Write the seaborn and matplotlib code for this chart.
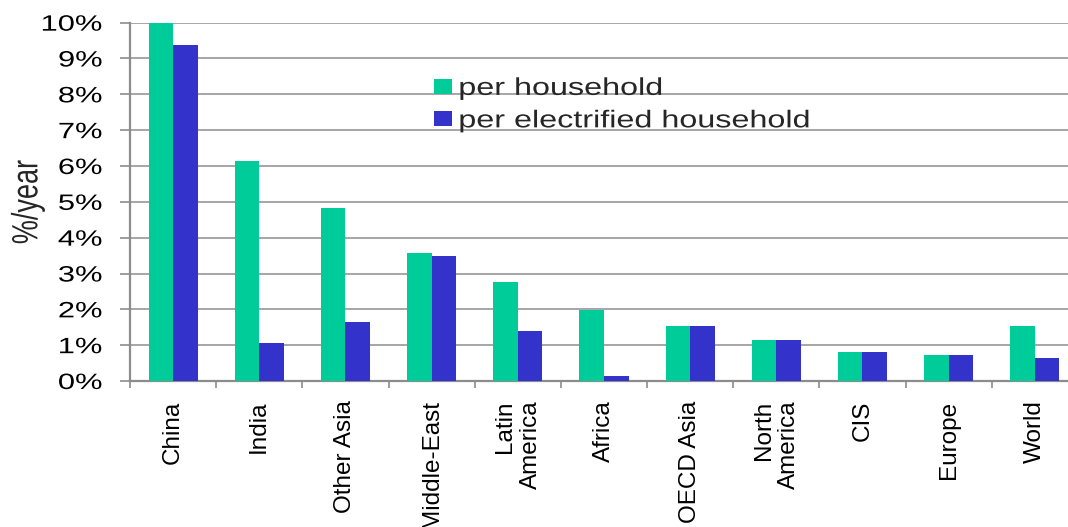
import matplotlib
matplotlib.use("Agg")
import matplotlib.pyplot as plt
import seaborn as sns
import pandas as pd
from matplotlib.ticker import FuncFormatter, FixedLocator
from matplotlib.patheffects import AbstractPathEffect
from matplotlib.transforms import Affine2D

regions = ["China", "India", "Other Asia", "Middle-East", "Latin\nAmerica",
           "Africa", "OECD Asia", "North\nAmerica", "CIS", "Europe", "World"]
per_household = [10.0, 6.15, 4.82, 3.57, 2.75, 1.97, 1.54, 1.15, 0.82, 0.72, 1.54]
per_electrified = [9.38, 1.07, 1.64, 3.50, 1.39, 0.14, 1.54, 1.15, 0.82, 0.72, 0.64]
series_names = ["per household", "per electrified household"]
y_ticks = list(range(0, 11))

df = pd.DataFrame({
    "region": regions * 2,
    "series": [series_names[0]] * len(regions) + [series_names[1]] * len(regions),
    "value": per_household + per_electrified,
})


class StretchX(AbstractPathEffect):
    """Widen drawn text horizontally about its left, right or centre edge."""

    def __init__(self, sx, anchor="left"):
        super().__init__()
        self.sx = sx
        self.anchor = anchor

    def draw_path(self, renderer, gc, tpath, affine, rgbFace=None):
        ext = tpath.get_extents(affine)
        if self.anchor == "right":
            x0 = ext.x1
        elif self.anchor == "center":
            x0 = 0.5 * (ext.x0 + ext.x1)
        else:
            x0 = ext.x0
        t = affine + Affine2D().translate(-x0, 0).scale(self.sx, 1).translate(x0, 0)
        renderer.draw_path(gc, tpath, t, rgbFace)


sns.set_theme(style="white")
plt.rcParams["font.family"] = ["Liberation Sans", "DejaVu Sans"]

fig = plt.figure(figsize=(10.68, 5.27), dpi=100)
ax = fig.add_axes([0.1217, 0.277, 0.8876, 0.680])

palette = {series_names[0]: "#00CC99", series_names[1]: "#3333CC"}
sns.barplot(data=df, x="region", y="value", hue="series", order=regions,
            hue_order=series_names, palette=palette, width=0.57,
            saturation=1, edgecolor="none", ax=ax, zorder=3)

ax.set_ylim(0, 10)
ax.set_xlim(-0.5, len(regions) - 0.5)
ax.yaxis.set_major_locator(FixedLocator(y_ticks))
ax.yaxis.set_major_formatter(FuncFormatter(lambda v, p: f"{int(round(v))}%"))
ax.grid(axis="y", color="#A6A6A6", linewidth=1.4, zorder=0)
ax.set_axisbelow(True)

for side in ["top", "right"]:
    ax.spines[side].set_visible(False)
for side in ["left", "bottom"]:
    ax.spines[side].set_color("#8C8C8C")
    ax.spines[side].set_linewidth(1.6)

ax.tick_params(axis="y", which="major", left=True, length=7, width=1.2,
               color="#8C8C8C", labelsize=16, pad=13, labelcolor="black")
for lab in ax.get_yticklabels():
    lab.set_path_effects([StretchX(1.39, "right")])

# category labels at bar centres, tick marks at category boundaries
ax.set_xticks(range(len(regions)))
ax.set_xticklabels(regions, rotation=90, fontsize=17.5, va="top", ha="center",
                   multialignment="right")
ax.tick_params(axis="x", which="major", bottom=False, length=0, pad=14,
               labelcolor="black")
ax.set_xticks([i - 0.5 for i in range(len(regions) + 1)], minor=True)
ax.tick_params(axis="x", which="minor", bottom=True, length=5, width=1.2,
               color="#8C8C8C")

ax.set_xlabel("")
ax.set_ylabel("%/year", fontsize=19.5, labelpad=12,
              path_effects=[StretchX(1.35, "center")])

leg = ax.legend(loc="upper left", bbox_to_anchor=(0.3105, 0.873), frameon=False,
                fontsize=17.5, handlelength=0.72, handleheight=0.55,
                handletextpad=0.3, labelspacing=0.43, borderaxespad=0)
for txt in leg.get_texts():
    txt.set_path_effects([StretchX(1.33, "left")])

fig.savefig("out.png", dpi=100)
